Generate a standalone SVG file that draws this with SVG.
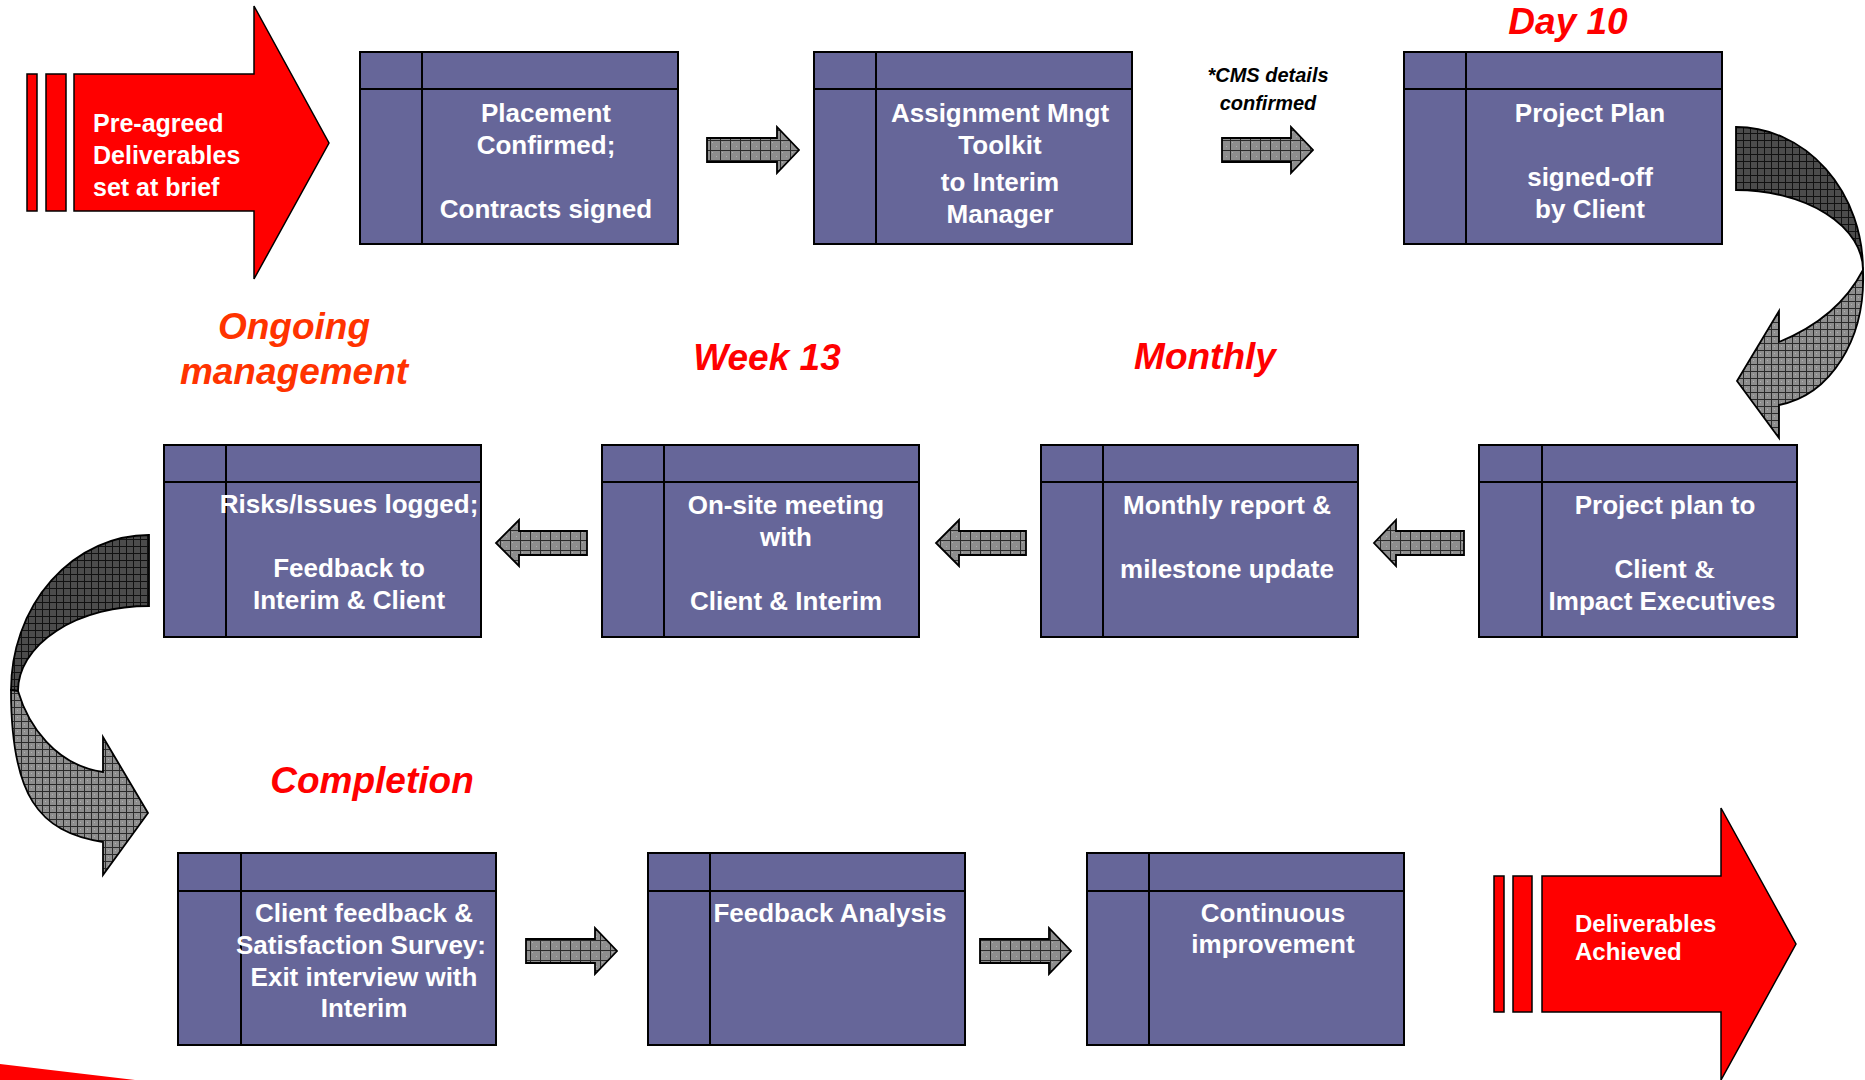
<svg xmlns="http://www.w3.org/2000/svg" width="1865" height="1080" viewBox="0 0 1865 1080">
<style>
.box rect{fill:#666699;stroke:#000;stroke-width:2}
.box path{fill:none;stroke:#000;stroke-width:2}
.t{font-family:"Liberation Sans",Arial,sans-serif;font-weight:bold;font-size:26px;fill:#fff;text-anchor:middle}
.lbl{font-family:"Liberation Sans",Arial,sans-serif;font-weight:bold;font-style:italic;font-size:37px;fill:#ff0000;text-anchor:middle}
.cms{font-family:"Liberation Sans",Arial,sans-serif;font-weight:bold;font-style:italic;font-size:20px;fill:#000;text-anchor:middle}
.red{fill:#ff0000;stroke:#000;stroke-width:1.5}
.rt{font-family:"Liberation Sans",Arial,sans-serif;font-weight:bold;font-size:25px;fill:#fff}
.sa{fill:url(#gl);stroke:#000;stroke-width:1.8}
.cd{fill:url(#gd);stroke:#000;stroke-width:1.8}
.cl{fill:url(#gl2);stroke:#000;stroke-width:1.8}
</style>
<defs>
<pattern id="gl" width="10" height="10" patternUnits="userSpaceOnUse">
<rect width="10" height="10" fill="#8e8e8e"/>
<rect x="2" y="2" width="1" height="1" fill="#b0b0b0"/><rect x="6" y="6" width="1" height="1" fill="#b0b0b0"/>
<path d="M0 0.5H10M0.5 0V10" stroke="#2a2a2a" stroke-width="1"/>
</pattern>
<pattern id="gl2" width="7" height="7" patternUnits="userSpaceOnUse">
<rect width="7" height="7" fill="#8e8e8e"/>
<rect x="3" y="3" width="1" height="1" fill="#b0b0b0"/>
<path d="M0 0.5H7M0.5 0V7" stroke="#2a2a2a" stroke-width="1"/>
</pattern>
<pattern id="gd" width="7" height="7" patternUnits="userSpaceOnUse">
<rect width="7" height="7" fill="#4c4c4c"/>
<path d="M0 0.5H7M0.5 0V7" stroke="#111" stroke-width="1"/>
</pattern>
</defs>
<rect width="1865" height="1080" fill="#fff"/>

<!-- Start red arrow -->
<g id="start">
<rect class="red" x="27" y="74" width="10" height="137"/>
<rect class="red" x="46" y="74" width="20" height="137"/>
<path class="red" d="M74 74H254V6L329 143L254 279V211H74Z"/>
<text class="rt" x="93" y="132">Pre-agreed</text>
<text class="rt" x="93" y="164">Deliverables</text>
<text class="rt" x="93" y="196">set at brief</text>
</g>

<!-- Labels -->
<g id="labels">
<text class="lbl" x="1568" y="34">Day 10</text>
<text class="lbl" x="294" y="339" style="fill:#ff3300">Ongoing</text>
<text class="lbl" x="294" y="384" style="fill:#ff3300">management</text>
<text class="lbl" x="767" y="370">Week 13</text>
<text class="lbl" x="1205" y="369">Monthly</text>
<text class="lbl" x="372" y="793">Completion</text>
<text class="cms" x="1268" y="82">*CMS details</text>
<text class="cms" x="1268" y="110">confirmed</text>
</g>

<!-- Row 1 -->
<g id="n1" class="box">
<rect x="360" y="52" width="318" height="192"/><path d="M360 89H678M422 52V244"/>
<text class="t" x="546" y="122">Placement</text>
<text class="t" x="546" y="154">Confirmed;</text>
<text class="t" x="546" y="218">Contracts signed</text>
</g>
<g id="n2" class="box">
<rect x="814" y="52" width="318" height="192"/><path d="M814 89H1132M876 52V244"/>
<text class="t" x="1000" y="122">Assignment Mngt</text>
<text class="t" x="1000" y="154">Toolkit</text>
<text class="t" x="1000" y="191">to Interim</text>
<text class="t" x="1000" y="223">Manager</text>
</g>
<g id="n3" class="box">
<rect x="1404" y="52" width="318" height="192"/><path d="M1404 89H1722M1466 52V244"/>
<text class="t" x="1590" y="122">Project Plan</text>
<text class="t" x="1590" y="186">signed-off</text>
<text class="t" x="1590" y="218">by Client</text>
</g>

<!-- Row 2 -->
<g id="n4" class="box">
<rect x="1479" y="445" width="318" height="192"/><path d="M1479 482H1797M1542 445V637"/>
<text class="t" x="1665" y="514">Project plan to</text>
<text class="t" x="1665" y="578">Client <tspan style="font-family:'Liberation Serif',serif">&amp;</tspan></text>
<text class="t" x="1662" y="610">Impact Executives</text>
</g>
<g id="n5" class="box">
<rect x="1041" y="445" width="317" height="192"/><path d="M1041 482H1358M1103 445V637"/>
<text class="t" x="1227" y="514">Monthly report &amp;</text>
<text class="t" x="1227" y="578">milestone update</text>
</g>
<g id="n6" class="box">
<rect x="602" y="445" width="317" height="192"/><path d="M602 482H919M664 445V637"/>
<text class="t" x="786" y="514">On-site meeting</text>
<text class="t" x="786" y="546">with</text>
<text class="t" x="786" y="610">Client &amp; Interim</text>
</g>
<g id="n7" class="box">
<rect x="164" y="445" width="317" height="192"/><path d="M164 482H481M226 445V637"/>
<text class="t" x="349" y="513">Risks/Issues logged;</text>
<text class="t" x="349" y="577">Feedback to</text>
<text class="t" x="349" y="609">Interim &amp; Client</text>
</g>

<!-- Row 3 -->
<g id="n8" class="box">
<rect x="178" y="853" width="318" height="192"/><path d="M178 891H496M241 853V1045"/>
<text class="t" x="364" y="922">Client feedback &amp;</text>
<text class="t" x="361" y="954">Satisfaction Survey:</text>
<text class="t" x="364" y="986">Exit interview with</text>
<text class="t" x="364" y="1017">Interim</text>
</g>
<g id="n9" class="box">
<rect x="648" y="853" width="317" height="192"/><path d="M648 891H965M710 853V1045"/>
<text class="t" x="830" y="922">Feedback Analysis</text>
</g>
<g id="n10" class="box">
<rect x="1087" y="853" width="317" height="192"/><path d="M1087 891H1404M1149 853V1045"/>
<text class="t" x="1273" y="922">Continuous</text>
<text class="t" x="1273" y="953">improvement</text>
</g>

<!-- End red arrow -->
<g id="end">
<rect class="red" x="1494" y="876" width="10" height="136"/>
<rect class="red" x="1513" y="876" width="19" height="136"/>
<path class="red" d="M1542 876H1721V808L1796 944L1721 1080V1012H1542Z"/>
<text class="rt" x="1575" y="932" style="font-size:24px">Deliverables</text>
<text class="rt" x="1575" y="960" style="font-size:24px">Achieved</text>
</g>

<!-- Connectors -->
<g id="connectors">
<path class="sa" d="M707 138H777V127L799 150L777 173V162H707Z"/>
<path class="sa" d="M1222 138H1291V127L1313 150L1291 173V162H1222Z"/>
<path class="sa" d="M1464 531H1396V520L1374 543L1396 566V555H1464Z"/>
<path class="sa" d="M1026 531H959V520L936 543L959 566V555H1026Z"/>
<path class="sa" d="M587 531H519V520L496 543L519 566V555H587Z"/>
<path class="sa" d="M526 939H595V928L617 951L595 974V963H526Z"/>
<path class="sa" d="M980 939H1049V928L1071 951L1049 974V963H980Z"/>
<path class="cd" d="M1736 127A127 143 0 0 1 1863 270A127 80 0 0 0 1736 190Z"/>
<path class="cl" d="M1863 270Q1838 318 1779 342L1779 311L1737 381L1779 438L1779 405C1830 395 1866 340 1863 270Z"/>
<path class="cd" d="M149 535A138 155 0 0 0 11 690L18 691A131 85 0 0 1 149 606Z"/>
<path class="cl" d="M11 690L18 691C28 725 55 765 103 772L103 737L148 813L103 875L103 842C38 832 11 795 11 690Z"/>
</g>
<path d="M0 1064L135 1080H0Z" fill="#ff0000"/>
</svg>
